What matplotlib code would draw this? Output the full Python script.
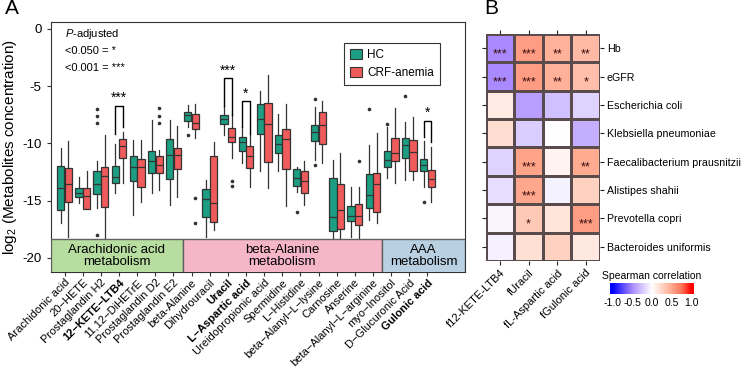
import numpy as np
import matplotlib
matplotlib.use("Agg")
import matplotlib.pyplot as plt
from matplotlib.patches import Patch, Rectangle
from matplotlib.colors import LinearSegmentedColormap

plt.rcParams['font.family'] = ['Liberation Sans', 'DejaVu Sans']
plt.rcParams['mathtext.fontset'] = 'custom'
plt.rcParams['mathtext.rm'] = 'Liberation Sans'
plt.rcParams['mathtext.it'] = 'Liberation Sans:italic'
plt.rcParams['axes.unicode_minus'] = False

# ---- panel A data ----
metabolites = ["Arachidonic acid", "20\u2212HETE", "Prostaglandin H2", "12\u2212KETE\u2212LTB4",
               "11,12\u2212DiHETrE", "Prostaglandin D2", "Prostaglandin E2", "beta-Alanine",
               "Dihydrouracil", "Uracil", "L\u2212Aspartic acid", "Ureidopropionic acid",
               "Spermidine", "L\u2212Histidine", "beta\u2212Alanyl\u2212L\u2212lysine", "Carnosine",
               "Anserine", "beta\u2212Alanyl\u2212L\u2212arginine", "myo\u2212Inositol",
               "D\u2212Glucuronic Acid", "Gulonic acid"]
bold_idx = [3, 9, 10, 20]

hc_lo  = [-16.94, -15.25, -15.69, -14.38, -16.27, -14.38, -15.4, -8.56, -18.16, -9.28, -11.76,
          -12.4, -12.4, -14.23, -11.47, -19.5, -18.16, -16.71, -13.07, -13.21, -13.8]
hc_q1  = [-15.83, -14.67, -14.44, -13.5, -13.27, -12.63, -13.15, -8.03, -16.42, -8.32, -10.68,
          -9.14, -10.88, -13.74, -9.81, -17.67, -16.8, -15.63, -12.1, -11.32, -12.43]
hc_med = [-13.94, -14.32, -13.59, -12.98, -12.05, -11.53, -11.03, -7.54, -14.9, -7.89, -9.87,
          -7.89, -10.07, -13.07, -9.0, -16.47, -16.36, -14.52, -11.47, -10.16, -11.9]
hc_q3  = [-12.0, -13.94, -12.4, -11.99, -11.12, -10.68, -9.66, -7.25, -14.03, -7.48, -9.43,
          -6.52, -9.28, -12.28, -8.41, -13.07, -15.46, -12.72, -10.65, -9.49, -11.38]
hc_hi  = [-10.45, -12.98, -11.53, -10.07, -9.72, -7.97, -7.92, -6.66, -13.21, -6.7, -8.6,
          -5.41, -7.45, -12.1, -6.81, -11.47, -13.8, -10.16, -8.56, -8.12, -9.81]
hc_out = [[], [], [-7.04, -7.62, -8.2, -18.02], [], [], [], [], [-9.23], [], [], [],
          [], [], [-15.98], [-6.08, -11.9], [], [], [-7.04], [-8.32], [-5.85], [-15.1]]

crf_lo  = [-18.2, -15.77, -19.5, -13.5, -15.1, -14.09, -14.67, -9.57, -17.58, -11.32, -13.8,
           -13.94, -15.48, -15.4, -11.7, -19.5, -19.5, -17.0, -13.5, -13.21, -15.1]
crf_q1  = [-15.1, -15.77, -15.55, -11.32, -13.85, -12.57, -12.28, -8.79, -16.85, -9.87, -12.19,
           -11.62, -12.25, -14.38, -10.1, -17.49, -17.14, -15.98, -11.55, -12.43, -13.85]
crf_med = [-13.56, -14.61, -12.86, -10.24, -12.11, -11.9, -11.03, -8.26, -15.2, -9.43, -11.12,
           -8.35, -9.63, -13.3, -8.41, -15.83, -16.36, -13.59, -10.83, -10.74, -13.15]
crf_q3  = [-12.19, -13.88, -12.05, -9.66, -11.38, -11.12, -10.39, -7.45, -11.12, -8.64, -10.22,
           -6.43, -8.76, -12.4, -7.25, -13.59, -15.31, -12.63, -9.57, -9.72, -12.34]
crf_hi  = [-9.81, -12.43, -9.28, -9.0, -9.72, -10.6, -8.5, -6.52, -9.87, -7.4, -9.3,
           -4.04, -6.52, -11.53, -6.29, -10.88, -13.8, -9.1, -6.95, -7.69, -10.3]
crf_out = [[], [], [], [], [], [-6.95, -7.62, -8.26], [], [-14.81, -16.94], [], [-13.3, -13.74], [],
           [], [], [], [], [], [-11.55], [], [], [], []]

sig_idx = [3, 9, 10, 20]
sig_label = ["***", "***", "*", "*"]
sig_top = [-6.72, -4.28, -6.31, -8.03]
sig_left = [-9.14, -6.75, -8.56, -9.43]
sig_right = [-8.56, -7.5, -9.2, -9.87]

pathways = ["Arachidonic acid\nmetabolism", "beta-Alanine\nmetabolism", "AAA\nmetabolism"]
pathway_span = [(0.23, 7.5), (7.5, 18.5), (18.5, 23.1)]
pathway_color = ["#b7dea0", "#f6b6c9", "#b9d0e2"]

# ---- panel B data ----
taxa = ["Hb", "eGFR", "Escherichia coli", "Klebsiella pneumoniae", "Faecalibacterium prausnitzii",
        "Alistipes shahii", "Prevotella copri", "Bacteroides uniformis"]
features = ["f12-KETE-LTB4", "fUracil", "fL-Aspartic acid", "fGulonic acid"]
corr = np.array([[-0.50, 0.55, 0.45, 0.40],
                 [-0.50, 0.55, 0.45, 0.38],
                 [0.12, -0.42, -0.28, -0.20],
                 [0.20, -0.22, 0.00, -0.35],
                 [-0.20, 0.52, 0.07, 0.48],
                 [-0.15, 0.50, -0.06, 0.27],
                 [-0.04, 0.32, 0.15, 0.55],
                 [-0.07, 0.18, 0.27, 0.14]])
stars = [["***", "***", "**", "**"],
         ["***", "***", "**", "*"],
         ["", "", "", ""],
         ["", "", "", ""],
         ["", "***", "", "**"],
         ["", "***", "", ""],
         ["", "*", "", "***"],
         ["", "", "", ""]]

green = "#1b9e81"
red = "#ef5b5b"
edge = "#333333"

fig = plt.figure(figsize=(7.42, 3.68), dpi=100)
ax = fig.add_axes([0.0683, 0.2609, 0.559, 0.679])

pos = np.arange(1, len(metabolites) + 1)
for lo, q1, med, q3, hi, out, off, col in [
        (hc_lo, hc_q1, hc_med, hc_q3, hc_hi, hc_out, -0.21, green),
        (crf_lo, crf_q1, crf_med, crf_q3, crf_hi, crf_out, 0.21, red)]:
    stats = [dict(whislo=lo[i], q1=q1[i], med=med[i], q3=q3[i], whishi=hi[i], fliers=out[i])
             for i in range(len(metabolites))]
    ax.bxp(stats, positions=pos + off, widths=0.4, patch_artist=True, showcaps=False,
           boxprops=dict(facecolor=col, edgecolor=edge, linewidth=0.9),
           medianprops=dict(color=edge, linewidth=0.9),
           whiskerprops=dict(color=edge, linewidth=0.9),
           flierprops=dict(marker='o', markersize=1.6, markerfacecolor=edge,
                           markeredgecolor=edge, linestyle='none'),
           manage_ticks=False)

for i, lab, top, yl, yr in zip(sig_idx, sig_label, sig_top, sig_left, sig_right):
    x0, x1 = pos[i] - 0.21, pos[i] + 0.21
    ax.plot([x0, x0, x1, x1], [yl, top, top, yr], color="black", lw=1.0)
    ax.text(pos[i], top + 0.05, lab, ha="center", va="bottom", fontsize=10)

for (a, b), name, col in zip(pathway_span, pathways, pathway_color):
    ax.add_patch(Rectangle((a, -21.3), b - a, 2.9, facecolor=col, edgecolor="#606060",
                           lw=1.0, zorder=5))
    ax.text((a + b) / 2, -19.85, name, ha="center", va="center", fontsize=9.5,
            linespacing=1.05, zorder=6)

ax.set_xlim(0.23, 23.1)
ax.set_ylim(-21.25, 0.6)
ax.set_yticks([0, -5, -10, -15, -20])
ax.set_xticks(pos)
ax.set_xticklabels(metabolites, rotation=45, ha="right", rotation_mode="anchor", fontsize=8)
for i in bold_idx:
    ax.get_xticklabels()[i].set_fontweight("bold")
ax.tick_params(axis="y", labelsize=9.5, length=3, color=edge)
ax.tick_params(axis="x", length=3, color=edge, pad=1)
for s in ax.spines.values():
    s.set_color(edge)
ax.set_ylabel("log$_2$ (Metabolites concentration)", fontsize=11, labelpad=2)

ax.text(0.034, 0.952, "$P$-adjusted", transform=ax.transAxes, fontsize=8, va="center")
ax.text(0.034, 0.884, "<0.050 = *", transform=ax.transAxes, fontsize=8, va="center")
ax.text(0.034, 0.817, "<0.001 = ***", transform=ax.transAxes, fontsize=8, va="center")

handles = [Patch(facecolor=green, edgecolor=edge, lw=0.8, label="HC"),
           Patch(facecolor=red, edgecolor=edge, lw=0.8, label="CRF-anemia")]
leg = ax.legend(handles=handles, loc="upper right", bbox_to_anchor=(0.953, 0.94),
                fontsize=8.5, fancybox=False, handlelength=1.0, handleheight=1.0,
                borderpad=0.5, labelspacing=0.45, handletextpad=0.5)
leg.get_frame().set_edgecolor("black")
leg.get_frame().set_linewidth(0.8)

# ---- panel B ----
cmap = LinearSegmentedColormap.from_list(
    "rwb", [(0.0, "#0000ff"), (0.25, "#a98bff"), (0.375, "#d6c7ff"), (0.5, "#ffffff"),
            (0.625, "#ffd5c6"), (0.75, "#ffa88e"), (0.875, "#fb7559"), (1.0, "#ff0000")])

hx = fig.add_axes([0.6546, 0.2908, 0.154, 0.617])
mesh = hx.pcolormesh(np.arange(len(features) + 1), np.arange(len(taxa) + 1), corr,
                     cmap=cmap, vmin=-1, vmax=1, edgecolors="#5a4c4c", linewidth=0.8)
for r in range(len(taxa)):
    for c in range(len(features)):
        if stars[r][c]:
            hx.text(c + 0.5, r + 0.72, stars[r][c], ha="center", va="center",
                    fontsize=9, color="#3a0d0d")
hx.set_xlim(0, len(features))
hx.set_ylim(len(taxa), 0)
hx.set_xticks(np.arange(len(features)) + 0.5)
hx.set_xticklabels(features, rotation=45, ha="right", rotation_mode="anchor", fontsize=8)
hx.set_yticks(np.arange(len(taxa)) + 0.5)
hx.set_yticklabels(taxa, fontsize=7.7)
hx.tick_params(top=True, bottom=True, left=True, right=True, labelleft=False,
               labelright=True, length=3, color="#222222", pad=2)
for s in hx.spines.values():
    s.set_visible(False)

cx = fig.add_axes([0.822, 0.2003, 0.113, 0.0315])
grad = np.linspace(-1.06, 1.06, 256).reshape(1, -1)
cx.imshow(grad, cmap=cmap, vmin=-1, vmax=1, aspect="auto", extent=[-1.06, 1.06, 0, 1])
cx.set_xlim(-1.06, 1.06)
cx.set_yticks([])
cx.set_xticks([-1, -0.5, 0, 0.5, 1])
cx.set_xticklabels(["-1.0", "-0.5", "0.0", "0.5", "1.0"], fontsize=7.5)
cx.tick_params(axis="x", length=0, pad=3)
for s in cx.spines.values():
    s.set_visible(False)
cx.set_title("Spearman correlation", fontsize=7.5, pad=3)

fig.text(12 / 742, 1 - 9 / 368, "A", fontsize=15, ha="center", va="center")
fig.text(491 / 742, 1 - 9 / 368, "B", fontsize=15, ha="center", va="center")

fig.savefig("out.png", dpi=100)
